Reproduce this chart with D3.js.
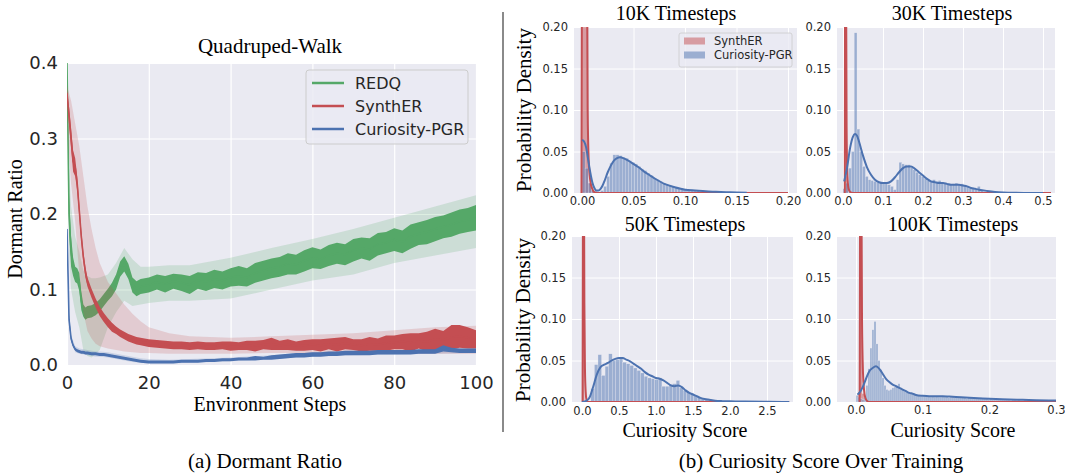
<!DOCTYPE html>
<html>
<head>
<meta charset="utf-8">
<script src="https://cdn.jsdelivr.net/npm/d3@7"></script>
<style>
body { margin: 0; background: #fff; }
svg { display: block; }
.serif { font-family: "Liberation Serif", "Times New Roman", serif; fill: #000; }
.sans { font-family: "DejaVu Sans", sans-serif; fill: #262626; }
</style>
</head>
<body>
<svg width="1065" height="473"></svg>
<script>
// ---------- (a) Dormant ratio, Quadruped-Walk ----------
var dormantTicksX = [0, 20, 40, 60, 80, 100];
var dormantTicksY = [0.0, 0.1, 0.2, 0.3, 0.4];
var seriesNames = ["REDQ", "SynthER", "Curiosity-PGR"];

var steps = [0,0.5,1,1.5,2,2.5,3,3.5,4,4.5,5,6,7,8,9,10,11,12,13,14,15,16,17,18,
  20,22,24,26,28,30,32,34,36,38,40,42,44,46,48,50,52,54,56,58,60,62,64,66,68,70,
  72,74,76,78,80,82,84,86,88,90,92,94,96,98,100];

var redqMean = [0.40,0.20,0.15,0.13,0.12,0.118,0.11,0.085,0.072,0.068,0.07,
  0.071,0.074,0.079,0.086,0.093,0.1,0.11,0.127,0.134,0.124,0.106,0.101,0.104,
  0.106,0.11,0.107,0.111,0.109,0.106,0.112,0.11,0.114,0.112,
  0.116,0.118,0.116,0.122,0.125,0.128,0.13,0.134,0.133,0.138,
  0.142,0.14,0.145,0.148,0.146,0.152,0.155,0.153,0.16,0.162,
  0.166,0.163,0.17,0.174,0.176,0.18,0.183,0.186,0.19,0.192,
  0.195];
var redqJit = [0.004,0.025,0.02,0.012,0.01,0.01,0.012,0.012,0.008,0.008,0.008,
  0.008,0.008,0.008,0.008,0.008,0.009,0.01,0.01,0.01,0.01,0.01,0.01,0.01,
  0.01,0.01,0.011,0.01,0.011,0.012,0.011,0.012,0.012,0.012,
  0.012,0.013,0.012,0.013,0.013,0.013,0.013,0.014,0.013,0.014,
  0.014,0.013,0.014,0.014,0.014,0.015,0.014,0.015,0.015,0.014,
  0.015,0.015,0.016,0.015,0.016,0.016,0.015,0.016,0.016,0.016,
  0.017];

var syntherMean = [0.36,0.33,0.30,0.27,0.262,0.24,0.205,0.17,0.143,0.123,0.11,
  0.095,0.082,0.071,0.063,0.056,0.05,0.046,0.042,0.039,0.036,0.034,0.032,0.031,
  0.029,0.028,0.027,0.026,0.026,0.025,0.026,0.025,0.025,0.026,
  0.025,0.025,0.026,0.025,0.027,0.028,0.026,0.027,0.025,0.026,
  0.027,0.026,0.028,0.027,0.029,0.027,0.026,0.028,0.027,0.029,
  0.03,0.031,0.03,0.032,0.031,0.034,0.033,0.037,0.038,0.036,
  0.034];
var syntherJit = [0.004,0.012,0.014,0.014,0.012,0.01,0.009,0.008,0.007,0.007,0.006,
  0.006,0.006,0.006,0.006,0.006,0.006,0.005,0.005,0.005,0.005,0.005,0.005,0.005,
  0.005,0.005,0.005,0.005,0.005,0.005,0.005,0.005,0.005,0.005,
  0.006,0.005,0.006,0.007,0.006,0.008,0.006,0.007,0.006,0.007,
  0.007,0.008,0.007,0.009,0.008,0.007,0.008,0.009,0.008,0.01,
  0.009,0.01,0.012,0.01,0.013,0.014,0.012,0.016,0.015,0.014,
  0.012];

var pgrMean = [0.18,0.06,0.035,0.026,0.021,0.019,0.018,0.017,0.017,0.016,0.016,
  0.015,0.015,0.014,0.014,0.013,0.012,0.011,0.01,0.009,0.008,0.007,0.006,0.005,
  0.004,0.004,0.004,0.004,0.005,0.005,0.005,0.006,0.006,0.007,
  0.007,0.008,0.008,0.009,0.009,0.01,0.011,0.012,0.013,0.013,
  0.014,0.014,0.015,0.015,0.016,0.016,0.016,0.016,0.017,0.017,
  0.017,0.017,0.017,0.018,0.018,0.018,0.022,0.02,0.019,0.019,
  0.019];
var pgrJit = [0.004,0.006,0.003,0.002,0.002,0.002,0.002,0.002,0.002,0.002,0.002,
  0.002,0.002,0.002,0.002,0.002,0.002,0.002,0.002,0.002,0.002,0.002,0.002,0.002,
  0.002,0.002,0.002,0.002,0.002,0.002,0.002,0.002,0.002,0.002,
  0.002,0.002,0.002,0.003,0.002,0.003,0.003,0.003,0.003,0.003,
  0.003,0.003,0.003,0.003,0.003,0.003,0.003,0.003,0.003,0.003,
  0.003,0.003,0.003,0.003,0.003,0.003,0.004,0.003,0.003,0.003,
  0.003];

// confidence bands (coarser x)
var bandSteps = [0,0.5,1,2,3,4,5,6,7,8,10,12,14,16,18,20,25,30,40,50,60,70,80,90,100];
var redqLo = [0.33,0.15,0.10,0.07,0.05,0.02,0.012,0.01,0.015,0.02,0.05,0.07,0.085,0.078,0.08,0.082,0.085,0.085,0.088,0.1,0.112,0.12,0.135,0.145,0.155];
var redqHi = [0.40,0.26,0.21,0.17,0.15,0.125,0.118,0.115,0.115,0.116,0.12,0.135,0.155,0.14,0.13,0.13,0.132,0.132,0.142,0.155,0.167,0.18,0.195,0.21,0.225];
var syntherLo = [0.34,0.28,0.24,0.19,0.12,0.07,0.045,0.035,0.028,0.025,0.022,0.02,0.018,0.017,0.016,0.016,0.015,0.015,0.015,0.016,0.016,0.016,0.015,0.015,0.015];
var syntherHi = [0.37,0.36,0.35,0.32,0.29,0.25,0.21,0.18,0.155,0.135,0.11,0.095,0.08,0.068,0.058,0.05,0.042,0.038,0.036,0.038,0.04,0.042,0.046,0.05,0.052];
var pgrLo = [0.16,0.05,0.03,0.017,0.015,0.014,0.013,0.012,0.011,0.011,0.01,0.008,0.006,0.004,0.003,0.002,0.002,0.003,0.005,0.008,0.011,0.013,0.014,0.015,0.016];
var pgrHi = [0.19,0.07,0.04,0.025,0.022,0.021,0.02,0.019,0.018,0.018,0.017,0.015,0.013,0.011,0.009,0.008,0.007,0.008,0.01,0.013,0.017,0.019,0.02,0.021,0.022];

// ---------- (b) Curiosity score histograms ----------
var densityTicks = [0, 0.05, 0.10, 0.15, 0.20];
var ticks10k = [0, 0.05, 0.10, 0.15, 0.20];
var ticks30k = [0, 0.1, 0.2, 0.3, 0.4, 0.5];
var ticks50k = [0, 0.5, 1.0, 1.5, 2.0, 2.5];
var ticks100k = [0, 0.1, 0.2, 0.3];

// 10K: bins of 0.003 from 0
var pgr10kBins = [0.05,0.03,0.012,0.004,0.002,0.001,0.003,0.008,0.02,0.036,
  0.046,0.046,0.045,0.043,0.042,0.039,0.037,0.035,0.032,0.029,
  0.027,0.024,0.021,0.018,0.016,0.014,0.012,0.01,0.009,0.008,
  0.007,0.006,0.005,0.005,0.004,0.004,0.003,0.003,0.002,0.002,
  0.002,0.002,0.001,0.001,0.001,0.001,0.001,0.0005,0.0005,0.0005];
var synth10kBins = [0.3, 0.3, 0.012, 0.002];
var pgr10kKde = [[0.0,0.064],[0.002,0.062],[0.004,0.055],[0.006,0.04],[0.008,0.025],[0.01,0.013],
  [0.012,0.006],[0.014,0.003],[0.016,0.003],[0.018,0.005],[0.02,0.009],[0.022,0.015],[0.025,0.025],
  [0.028,0.033],[0.031,0.039],[0.034,0.042],[0.037,0.043],[0.04,0.042],[0.045,0.039],[0.05,0.035],
  [0.055,0.031],[0.06,0.026],[0.065,0.022],[0.07,0.018],[0.08,0.011],[0.09,0.007],[0.1,0.004],
  [0.11,0.003],[0.12,0.002],[0.13,0.0015],[0.14,0.001],[0.15,0.0005],[0.16,0.0002]];
var synth10kKde = [[-0.0005,0],[0.0,0.3],[0.001,0.45],[0.003,0.55],[0.0048,0.3],[0.0055,0.1],
  [0.0065,0.04],[0.008,0.015],[0.01,0.005],[0.012,0.001],[0.015,0],[0.2,0]];

// 30K: bins of 0.007 from 0
var pgr30kBins = [0.005,0.012,0.03,0.05,0.193,0.077,0.05,0.032,0.02,0.016,
  0.015,0.014,0.013,0.012,0.012,0.011,0.01,0.008,0.004,0.016,
  0.037,0.035,0.034,0.034,0.031,0.028,0.025,0.022,0.02,0.018,
  0.015,0.014,0.016,0.013,0.015,0.013,0.012,0.011,0.01,0.011,
  0.012,0.01,0.011,0.009,0.008,0.006,0.005,0.004,0.008,0.003,0.001];
var synth30kBins = [0.3, 0.02];
var pgr30kKde = [[0.003,0.014],[0.01,0.03],[0.018,0.055],[0.025,0.068],[0.03,0.071],[0.035,0.069],
  [0.04,0.062],[0.05,0.045],[0.06,0.031],[0.07,0.022],[0.08,0.016],[0.09,0.013],[0.1,0.012],
  [0.11,0.012],[0.12,0.014],[0.13,0.019],[0.14,0.025],[0.15,0.03],[0.16,0.032],[0.17,0.032],
  [0.18,0.029],[0.19,0.025],[0.2,0.021],[0.21,0.017],[0.22,0.014],[0.23,0.013],[0.24,0.012],
  [0.25,0.012],[0.26,0.011],[0.27,0.01],[0.28,0.01],[0.29,0.01],[0.3,0.009],[0.31,0.008],
  [0.32,0.006],[0.33,0.005],[0.34,0.004],[0.36,0.0025],[0.38,0.0013],[0.4,0.0006],[0.43,0.0002],
  [0.46,0.0001],[0.5,0]];
var synth30kKde = [[0.0045,0],[0.005,0.2],[0.006,0.5],[0.0075,0.3],[0.009,0.08],[0.011,0.02],
  [0.014,0.005],[0.018,0.001],[0.024,0],[0.52,0]];

// 50K: bins of 0.048 from 0.12
var pgr50kBins = [0.016,0.045,0.057,0.032,0.043,0.058,0.05,0.051,0.053,0.048,
  0.046,0.044,0.041,0.038,0.035,0.031,0.029,0.028,0.027,0.029,
  0.019,0.019,0.021,0.022,0.026,0.017,0.014,0.012,0.01,0.008,
  0.006,0.005,0.004,0.003,0.002,0.001,0.0007];
var synth50kBins = [0.3];
var pgr50kKde = [[0.0,0.0],[0.05,0.001],[0.1,0.005],[0.15,0.018],[0.2,0.033],[0.25,0.042],[0.3,0.045],
  [0.35,0.047],[0.4,0.05],[0.45,0.052],[0.5,0.053],[0.55,0.053],[0.6,0.051],[0.65,0.049],[0.7,0.046],
  [0.75,0.043],[0.8,0.04],[0.85,0.036],[0.9,0.033],[0.95,0.031],[1.0,0.029],[1.05,0.028],[1.1,0.026],
  [1.15,0.023],[1.2,0.02],[1.25,0.019],[1.3,0.02],[1.35,0.018],[1.4,0.014],[1.45,0.011],[1.5,0.009],
  [1.55,0.007],[1.6,0.005],[1.7,0.003],[1.8,0.0015],[1.9,0.001],[2.0,0.0008],[2.2,0.0005],
  [2.5,0.0002],[2.8,0.0001]];
var synth50kKde = [[0.008,0],[0.012,0.2],[0.018,0.5],[0.026,0.3],[0.032,0.12],[0.04,0.04],
  [0.05,0.012],[0.06,0.003],[0.075,0],[2.8,0]];

// 100K: bins of 0.003 from 0
var pgr100kBins = [0.008,0.006,0.004,0.003,0.006,0.02,0.04,0.065,0.087,0.097,
  0.07,0.05,0.039,0.029,0.02,0.015,0.014,0.015,0.017,0.018,
  0.02,0.022,0.017,0.015,0.013,0.012,0.011,0.01,0.009,0.009,
  0.008,0.008,0.007,0.007,0.007,0.007,0.007,0.006,0.007,0.006,
  0.007,0.006,0.006,0.007,0.006,0.006,0.005,0.006,0.006,0.005,
  0.005,0.005,0.006,0.005,0.005,0.004,0.005,0.005,0.004,0.005,
  0.004,0.004,0.005,0.004,0.004,0.004,0.003,0.004,0.003,0.004,
  0.003,0.003,0.004,0.003,0.003,0.003,0.003,0.002,0.003,0.003,
  0.002,0.003,0.002,0.002,0.003,0.002,0.002,0.002,0.002,0.002,
  0.001,0.002,0.002,0.001,0.002,0.001,0.001,0.002,0.001,0.001];
var synth100kBins = [0.012, 0.3, 0.01];
var pgr100kKde = [[0.002,0.009],[0.005,0.011],[0.01,0.018],[0.015,0.028],[0.02,0.037],[0.025,0.041],
  [0.03,0.043],[0.035,0.04],[0.04,0.034],[0.045,0.028],[0.05,0.024],[0.055,0.021],[0.06,0.019],
  [0.065,0.017],[0.07,0.015],[0.075,0.013],[0.08,0.011],[0.085,0.01],[0.09,0.0085],[0.1,0.0075],
  [0.11,0.007],[0.12,0.007],[0.13,0.007],[0.14,0.0065],[0.15,0.006],[0.17,0.005],[0.19,0.0042],
  [0.21,0.0036],[0.23,0.003],[0.25,0.0026],[0.27,0.0022],[0.3,0.0018]];
var synth100kKde = [[0.0055,0],[0.006,0.2],[0.007,0.5],[0.008,0.3],[0.009,0.1],[0.0105,0.035],
  [0.012,0.015],[0.014,0.005],[0.017,0.001],[0.02,0],[0.3,0]];

var GREEN = "#55a868", RED = "#c44e52", BLUE = "#4c72b0", BG = "#eaeaf2";

var svg = d3.select("svg");
svg.append("rect").attr("width", 1065).attr("height", 473).attr("fill", "#fff");

// ======== left panel ========
var L = {left: 67, right: 476, top: 63, bottom: 365};
var x = d3.scaleLinear().domain([0, 100]).range([L.left, L.right]);
var y = d3.scaleLinear().domain([0, 0.4]).range([L.bottom, L.top]);

svg.append("rect")
    .attr("x", L.left).attr("y", L.top)
    .attr("width", L.right - L.left).attr("height", L.bottom - L.top)
    .attr("fill", BG);

svg.append("g")
    .attr("transform", "translate(0," + L.bottom + ")")
    .call(d3.axisBottom(x).tickValues(dormantTicksX).tickSize(-(L.bottom - L.top)).tickFormat(""))
    .call(function(g) { g.select(".domain").remove(); })
    .selectAll("line").attr("stroke", "#fff").attr("stroke-width", 1.2);
svg.append("g")
    .attr("transform", "translate(" + L.left + ",0)")
    .call(d3.axisLeft(y).tickValues(dormantTicksY).tickSize(-(L.right - L.left)).tickFormat(""))
    .call(function(g) { g.select(".domain").remove(); })
    .selectAll("line").attr("stroke", "#fff").attr("stroke-width", 1.2);

svg.append("clipPath").attr("id", "clipL").append("rect")
    .attr("x", L.left).attr("y", L.top)
    .attr("width", L.right - L.left).attr("height", L.bottom - L.top);
var gL = svg.append("g").attr("clip-path", "url(#clipL)");

var series = [
    {name: seriesNames[0], color: GREEN, mean: redqMean, jit: redqJit, lo: redqLo, hi: redqHi},
    {name: seriesNames[1], color: RED, mean: syntherMean, jit: syntherJit, lo: syntherLo, hi: syntherHi},
    {name: seriesNames[2], color: BLUE, mean: pgrMean, jit: pgrJit, lo: pgrLo, hi: pgrHi}
];

series.forEach(function(s) {
    var band = d3.area()
        .x(function(d, i) { return x(bandSteps[i]); })
        .y0(function(d, i) { return y(s.lo[i]); })
        .y1(function(d) { return y(d); });
    gL.append("path").datum(s.hi).attr("d", band)
        .attr("fill", s.color).attr("opacity", 0.2);

    var env = d3.area()
        .x(function(d, i) { return x(steps[i]); })
        .y0(function(d, i) { return y(d - s.jit[i]); })
        .y1(function(d, i) { return y(d + s.jit[i]); });
    gL.append("path").datum(s.mean).attr("d", env).attr("fill", s.color);

    var line = d3.line()
        .x(function(d, i) { return x(steps[i]); })
        .y(function(d) { return y(d); });
    gL.append("path").datum(s.mean).attr("d", line)
        .attr("fill", "none").attr("stroke", s.color).attr("stroke-width", 1.6);
});

svg.append("g")
    .attr("transform", "translate(0," + L.bottom + ")")
    .call(d3.axisBottom(x).tickValues(dormantTicksX).tickSize(0).tickPadding(11).tickFormat(d3.format("d")))
    .call(function(g) { g.select(".domain").remove(); })
    .selectAll("text").attr("class", "sans").attr("font-size", 18);
svg.append("g")
    .attr("transform", "translate(" + L.left + ",0)")
    .call(d3.axisLeft(y).tickValues(dormantTicksY).tickSize(0).tickPadding(9).tickFormat(d3.format(".1f")))
    .call(function(g) { g.select(".domain").remove(); })
    .selectAll("text").attr("class", "sans").attr("font-size", 18);

svg.append("text").attr("class", "serif").attr("x", 270).attr("y", 53)
    .attr("text-anchor", "middle").attr("font-size", 21).text("Quadruped-Walk");
svg.append("text").attr("class", "serif").attr("x", 270).attr("y", 411)
    .attr("text-anchor", "middle").attr("font-size", 20).text("Environment Steps");
svg.append("text").attr("class", "serif")
    .attr("transform", "translate(22,219) rotate(-90)")
    .attr("text-anchor", "middle").attr("font-size", 20).text("Dormant Ratio");

// legend
var lg = svg.append("g");
lg.append("rect").attr("x", 306).attr("y", 70).attr("width", 162).attr("height", 74)
    .attr("rx", 3).attr("fill", BG).attr("fill-opacity", 0.8).attr("stroke", "#cccccc");
series.forEach(function(s, i) {
    var cy = 83 + i * 23;
    lg.append("line").attr("x1", 312).attr("x2", 344).attr("y1", cy).attr("y2", cy)
        .attr("stroke", s.color).attr("stroke-width", 2.5);
    lg.append("text").attr("class", "sans").attr("x", 355).attr("y", cy + 6)
        .attr("font-size", 16).text(s.name);
});

// separator
svg.append("line").attr("x1", 503).attr("x2", 503).attr("y1", 12).attr("y2", 432)
    .attr("stroke", "#8a8a8a").attr("stroke-width", 2);

// ======== right panels ========
var panels = [
    {id: "p10", title: "10K Timesteps", titleX: 676, titleY: 20,
     left: 574, right: 797, top: 27, bottom: 193, zx: 582, tx: 788, ticks: ticks10k, fmt: ".2f", pad: 4,
     blue: pgr10kBins, bStart: 0, bW: 0.003, red: synth10kBins, rStart: 0, rW: 0.003,
     blueKde: pgr10kKde, redKde: synth10kKde, ylab: 531, ylabY: 110, legend: true},
    {id: "p30", title: "30K Timesteps", titleX: 952, titleY: 20,
     left: 837, right: 1055, top: 27, bottom: 193, zx: 843, tx: 1043, ticks: ticks30k, fmt: ".1f", pad: 4,
     blue: pgr30kBins, bStart: 0, bW: 0.007, red: synth30kBins, rStart: 0.004, rW: 0.004,
     blueKde: pgr30kKde, redKde: synth30kKde},
    {id: "p50", title: "50K Timesteps", titleX: 685, titleY: 231,
     left: 572, right: 793, top: 236, bottom: 402, zx: 582, tx: 767, ticks: ticks50k, fmt: ".1f", pad: 5,
     blue: pgr50kBins, bStart: 0.12, bW: 0.048, red: synth50kBins, rStart: 0.008, rW: 0.025,
     blueKde: pgr50kKde, redKde: synth50kKde, ylab: 530, ylabY: 320, xlab: 437},
    {id: "p100", title: "100K Timesteps", titleX: 953, titleY: 231,
     left: 837, right: 1057, top: 236, bottom: 402, zx: 856, tx: 1056, ticks: ticks100k, fmt: ".1f", pad: 4,
     blue: pgr100kBins, bStart: 0, bW: 0.003, red: synth100kBins, rStart: 0.003, rW: 0.003,
     blueKde: pgr100kKde, redKde: synth100kKde, xlab: 437}
];

panels.forEach(function(p) {
    var px = d3.scaleLinear().domain([0, p.ticks[p.ticks.length - 1]]).range([p.zx, p.tx]);
    var py = d3.scaleLinear().domain([0, 0.2]).range([p.bottom, p.top]);
    var w = p.right - p.left, h = p.bottom - p.top;

    svg.append("rect").attr("x", p.left).attr("y", p.top).attr("width", w).attr("height", h).attr("fill", BG);

    svg.append("g").attr("transform", "translate(0," + p.bottom + ")")
        .call(d3.axisBottom(px).tickValues(p.ticks).tickSize(-h).tickFormat(""))
        .call(function(g) { g.select(".domain").remove(); })
        .selectAll("line").attr("stroke", "#fff").attr("stroke-width", 1);
    svg.append("g").attr("transform", "translate(" + p.left + ",0)")
        .call(d3.axisLeft(py).tickValues(densityTicks).tickSize(-w).tickFormat(""))
        .call(function(g) { g.select(".domain").remove(); })
        .selectAll("line").attr("stroke", "#fff").attr("stroke-width", 1);

    svg.append("clipPath").attr("id", "clip" + p.id).append("rect")
        .attr("x", p.left).attr("y", p.top).attr("width", w).attr("height", h);
    var g = svg.append("g").attr("clip-path", "url(#clip" + p.id + ")");

    // histogram bars
    g.selectAll(".rbar").data(p.red).enter().append("rect")
        .attr("x", function(d, i) { return px(p.rStart + i * p.rW); })
        .attr("width", function(d, i) { return px(p.rStart + (i + 1) * p.rW) - px(p.rStart + i * p.rW); })
        .attr("y", function(d) { return py(d); })
        .attr("height", function(d) { return p.bottom - py(d); })
        .attr("fill", RED).attr("fill-opacity", 0.5);
    g.selectAll(".bbar").data(p.blue).enter().append("rect")
        .attr("x", function(d, i) { return px(p.bStart + i * p.bW); })
        .attr("width", function(d, i) { return px(p.bStart + (i + 1) * p.bW) - px(p.bStart + i * p.bW); })
        .attr("y", function(d) { return py(d); })
        .attr("height", function(d) { return p.bottom - py(d); })
        .attr("fill", BLUE).attr("fill-opacity", 0.5)
        .attr("stroke", BG).attr("stroke-width", 0.3);

    var kde = d3.line()
        .x(function(d) { return px(d[0]); })
        .y(function(d) { return py(d[1]); })
        .curve(d3.curveMonotoneX);
    g.append("path").datum(p.redKde).attr("d", kde)
        .attr("fill", "none").attr("stroke", RED).attr("stroke-width", 2);
    g.append("path").datum(p.blueKde).attr("d", kde)
        .attr("fill", "none").attr("stroke", BLUE).attr("stroke-width", 2);

    svg.append("g").attr("transform", "translate(0," + p.bottom + ")")
        .call(d3.axisBottom(px).tickValues(p.ticks).tickSize(0).tickPadding(p.pad).tickFormat(d3.format(p.fmt)))
        .call(function(g) { g.select(".domain").remove(); })
        .selectAll("text").attr("class", "sans").attr("font-size", 11.5);
    svg.append("g").attr("transform", "translate(" + p.left + ",0)")
        .call(d3.axisLeft(py).tickValues(densityTicks).tickSize(0).tickPadding(6).tickFormat(d3.format(".2f")))
        .call(function(g) { g.select(".domain").remove(); })
        .selectAll("text").attr("class", "sans").attr("font-size", 11.5);

    svg.append("text").attr("class", "serif").attr("x", p.titleX).attr("y", p.titleY)
        .attr("text-anchor", "middle").attr("font-size", 20).text(p.title);
    if (p.ylab) {
        svg.append("text").attr("class", "serif")
            .attr("transform", "translate(" + p.ylab + "," + p.ylabY + ") rotate(-90)")
            .attr("text-anchor", "middle").attr("font-size", 21).text("Probability Density");
    }
    if (p.xlab) {
        svg.append("text").attr("class", "serif").attr("x", p.titleX).attr("y", p.xlab)
            .attr("text-anchor", "middle").attr("font-size", 20).text("Curiosity Score");
    }
    if (p.legend) {
        var lg2 = svg.append("g");
        lg2.append("rect").attr("x", 679).attr("y", 33).attr("width", 113).attr("height", 34)
            .attr("rx", 2).attr("fill", BG).attr("fill-opacity", 0.8).attr("stroke", "#cccccc").attr("stroke-width", 0.8);
        [[seriesNames[1], RED], [seriesNames[2], BLUE]].forEach(function(e, i) {
            var cy = 41 + i * 14;
            lg2.append("rect").attr("x", 684).attr("y", cy - 3.5).attr("width", 21).attr("height", 7)
                .attr("fill", e[1]).attr("fill-opacity", 0.5);
            lg2.append("text").attr("class", "sans").attr("x", 714).attr("y", cy + 4)
                .attr("font-size", 11.5).text(e[0]);
        });
    }
});

// captions
svg.append("text").attr("class", "serif").attr("x", 265).attr("y", 468)
    .attr("text-anchor", "middle").attr("font-size", 21).text("(a) Dormant Ratio");
svg.append("text").attr("class", "serif").attr("x", 821).attr("y", 468)
    .attr("text-anchor", "middle").attr("font-size", 21).text("(b) Curiosity Score Over Training");
</script>
</body>
</html>
